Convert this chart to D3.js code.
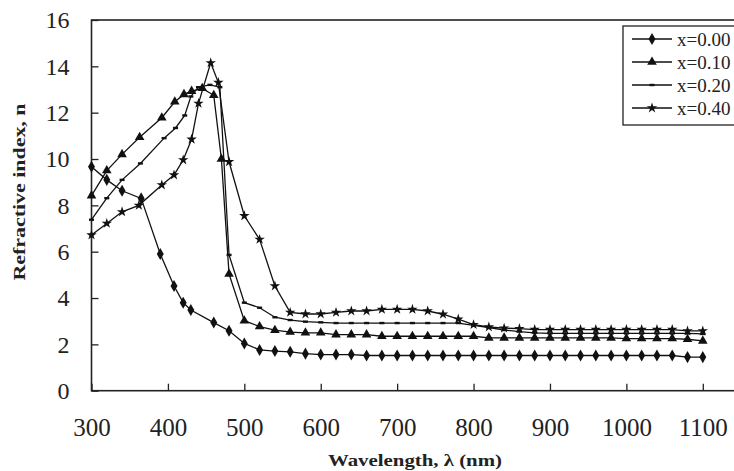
<!DOCTYPE html>
<html>
<head>
<meta charset="utf-8">
<script src="https://cdn.jsdelivr.net/npm/d3@7"></script>
<style>
  html, body { margin: 0; padding: 0; background: #fff; }
  svg { display: block; }
  text { font-family: "Liberation Serif", "Times New Roman", serif; fill: #222; }
</style>
</head>
<body>
<div id="chart"></div>
<script>
// wavelengths shared by every series from 560 nm on
const tailWl = [560, 580, 600, 620, 640, 660, 680, 700, 720, 740, 760, 780, 800, 820,
                840, 860, 880, 900, 920, 940, 960, 980, 1000, 1020, 1040, 1060, 1080, 1100];

// x = 0.00
const wlA = [300, 320, 340, 365, 390, 408, 420, 430, 460, 480, 500, 520, 540].concat(tailWl);
const nA = [9.67, 9.1, 8.63, 8.3, 5.9, 4.52, 3.8, 3.48, 2.94, 2.59, 2.04, 1.76, 1.71,
            1.68, 1.6, 1.56, 1.56, 1.56, 1.52, 1.52, 1.52, 1.52, 1.52, 1.52, 1.52, 1.52, 1.52,
            1.52, 1.52, 1.52, 1.52, 1.52, 1.52, 1.52, 1.52, 1.52, 1.52, 1.52, 1.52, 1.45, 1.45];

// x = 0.10
const wlB = [300, 320, 340, 363, 392, 409, 421, 431, 445, 460, 470, 480, 500, 520, 540].concat(tailWl);
const nB = [8.42, 9.5, 10.2, 10.94, 11.78, 12.47, 12.79, 12.93, 13.05, 12.75, 10.0, 5.04, 3.02, 2.77, 2.61,
            2.53, 2.5, 2.5, 2.42, 2.42, 2.42, 2.35, 2.35, 2.35, 2.35, 2.35, 2.35, 2.35, 2.28,
            2.28, 2.28, 2.28, 2.28, 2.28, 2.28, 2.28, 2.28, 2.25, 2.25, 2.25, 2.25, 2.22, 2.15];

// x = 0.20
const wlC = [300, 320, 340, 364, 395, 410, 422, 430, 440, 455, 468, 480, 500, 520, 540].concat(tailWl);
const nC = [7.38, 8.31, 9.1, 9.81, 10.9, 11.34, 11.88, 12.7, 13.1, 13.2, 13.1, 5.86, 3.8, 3.58, 3.17,
            3.05, 2.98, 2.95, 2.92, 2.92, 2.92, 2.92, 2.92, 2.92, 2.92, 2.92, 2.92, 2.82, 2.72,
            2.62, 2.55, 2.5, 2.47, 2.47, 2.47, 2.47, 2.47, 2.47, 2.47, 2.47, 2.47, 2.47, 2.45];

// x = 0.40
const wlD = [300, 320, 340, 362, 392, 408, 420, 431, 440, 456, 466, 480, 500, 520, 540].concat(tailWl);
const nD = [6.72, 7.22, 7.72, 8.0, 8.88, 9.31, 9.96, 10.85, 12.4, 14.15, 13.3, 9.88, 7.55, 6.53, 4.52,
            3.38, 3.31, 3.31, 3.38, 3.44, 3.44, 3.51, 3.51, 3.51, 3.44, 3.3, 3.09, 2.85, 2.75,
            2.7, 2.68, 2.64, 2.64, 2.64, 2.64, 2.64, 2.64, 2.64, 2.64, 2.64, 2.64, 2.58, 2.58];

const seriesNames = ["x=0.00", "x=0.10", "x=0.20", "x=0.40"];
const xTicks = [300, 400, 500, 600, 700, 800, 900, 1000, 1100];
const yTicks = [0, 2, 4, 6, 8, 10, 12, 14, 16];

const width = 734, height = 471;
const plot = { left: 91.5, top: 20, bottom: 390.7, right: 741 };

const svg = d3.select("#chart").append("svg")
    .attr("width", width)
    .attr("height", height);

const x = d3.scaleLinear().domain([300, 1150]).range([plot.left, plot.right]);
const y = d3.scaleLinear().domain([0, 16]).range([plot.bottom, plot.top]);

// x axis, ticks pointing inward
const xAxis = svg.append("g")
    .attr("transform", `translate(0,${plot.bottom})`)
    .call(d3.axisBottom(x).tickValues(xTicks).tickFormat(d3.format("d")).tickSize(-7).tickPadding(28));
xAxis.select(".domain").remove();
xAxis.selectAll("line").attr("stroke", "#222").attr("stroke-width", 1.3);
xAxis.selectAll("text").style("font-size", "25px").attr("fill", "#222");

// y axis
const yAxis = svg.append("g")
    .attr("transform", `translate(${plot.left},0)`)
    .call(d3.axisLeft(y).tickValues(yTicks).tickFormat(d3.format("d")).tickSize(-7).tickPadding(22));
yAxis.select(".domain").remove();
yAxis.selectAll("line").attr("stroke", "#222").attr("stroke-width", 1.3);
yAxis.selectAll("text").style("font-size", "24px").attr("fill", "#222");

// frame
svg.append("rect")
    .attr("x", plot.left)
    .attr("y", plot.top)
    .attr("width", plot.right - plot.left)
    .attr("height", plot.bottom - plot.top)
    .attr("fill", "none")
    .attr("stroke", "#222")
    .attr("stroke-width", 1.6);

// markers
const markers = [
    d3.symbol().type(d3.symbolDiamond).size(42),
    d3.symbol().type(d3.symbolTriangle).size(40),
    null, // short dash
    d3.symbol().type(d3.symbolStar).size(34)
];

function drawMarker(g, i, cx, cy) {
    if (i === 2) {
        g.append("rect")
            .attr("x", cx - 2.5).attr("y", cy - 1.2)
            .attr("width", 5).attr("height", 2.4)
            .attr("fill", "#111");
    } else {
        g.append("path")
            .attr("d", markers[i]())
            .attr("transform", `translate(${cx},${cy})`)
            .attr("fill", "#111");
    }
}

const series = [
    { wl: wlA, n: nA },
    { wl: wlB, n: nB },
    { wl: wlC, n: nC },
    { wl: wlD, n: nD }
];

const line = d3.line()
    .x(d => x(d[0]))
    .y(d => y(d[1]));

series.forEach((s, i) => {
    const pts = s.wl.map((w, k) => [w, s.n[k]]);
    const g = svg.append("g");
    g.append("path")
        .attr("d", line(pts))
        .attr("fill", "none")
        .attr("stroke", "#111")
        .attr("stroke-width", 1.3);
    pts.forEach(p => drawMarker(g, i, x(p[0]), y(p[1])));
});

// legend
const legend = svg.append("g");
legend.append("rect")
    .attr("x", 623).attr("y", 26)
    .attr("width", 120).attr("height", 99)
    .attr("fill", "#fff")
    .attr("stroke", "#222")
    .attr("stroke-width", 1.3);

seriesNames.forEach((name, i) => {
    const ly = 39 + i * 23;
    legend.append("line")
        .attr("x1", 632).attr("x2", 672)
        .attr("y1", ly).attr("y2", ly)
        .attr("stroke", "#111")
        .attr("stroke-width", 1.3);
    drawMarker(legend, i, 652, ly);
    legend.append("text")
        .attr("x", 677).attr("y", ly)
        .attr("dy", "0.35em")
        .style("font-size", "19px")
        .text(name);
});

// axis titles
svg.append("text")
    .attr("transform", "translate(25,192) rotate(-90)")
    .attr("text-anchor", "middle")
    .attr("textLength", 177)
    .attr("lengthAdjust", "spacingAndGlyphs")
    .style("font-size", "16px")
    .style("font-weight", "bold")
    .text("Refractive index, n");

svg.append("text")
    .attr("x", 415).attr("y", 466)
    .attr("text-anchor", "middle")
    .attr("textLength", 174)
    .attr("lengthAdjust", "spacingAndGlyphs")
    .style("font-size", "16px")
    .style("font-weight", "bold")
    .text("Wavelength, λ (nm)");
</script>
</body>
</html>
